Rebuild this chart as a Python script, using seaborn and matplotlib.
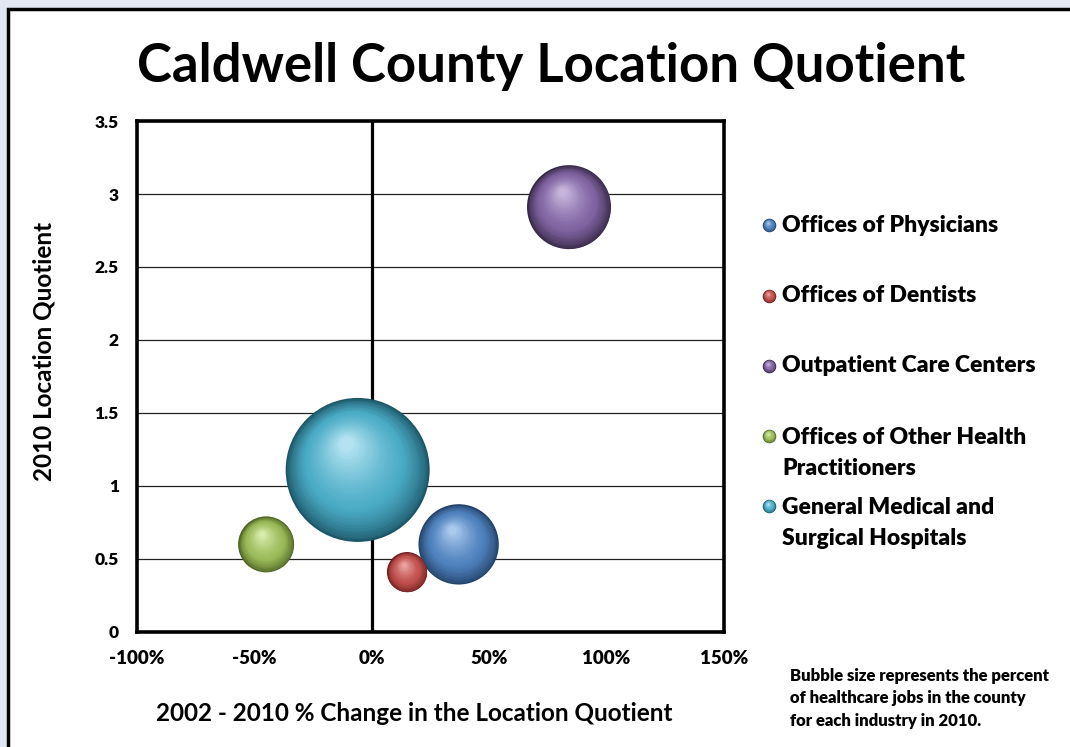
import numpy as np
import pandas as pd
import seaborn as sns
import matplotlib.pyplot as plt
from matplotlib import transforms
from matplotlib.colors import to_rgb
from matplotlib.patches import Rectangle

# data
industries = ["Offices of Physicians", "Offices of Dentists", "Outpatient Care Centers",
              "Offices of Other Health Practitioners", "General Medical and Surgical Hospitals"]
legend_labels = ["Offices of Physicians", "Offices of Dentists", "Outpatient Care Centers",
                 "Offices of Other Health\nPractitioners", "General Medical and\nSurgical Hospitals"]
pct_change = [37, 15, 84, -45, -6]          # 2002-2010 % change in LQ
lq_2010 = [0.60, 0.41, 2.91, 0.60, 1.11]    # 2010 location quotient
job_share = [14.0, 3.5, 15.3, 6.8, 45.0]    # % of healthcare jobs (bubble size)

base_colors = ["#4f81bd", "#c0504d", "#8064a2", "#9bbb59", "#4bacc6"]
dark_colors = ["#223f66", "#6e1f1d", "#352744", "#4b6120", "#1b5566"]
light_colors = ["#a9c9ee", "#eba3a1", "#c6b4dc", "#d6ebaa", "#b3e3f1"]

x_ticks = [-100, -50, 0, 50, 100, 150]
y_ticks = [0, 0.5, 1, 1.5, 2, 2.5, 3, 3.5]
y_ticklabels = ["0", "0.5", "1", "1.5", "2", "2.5", "3", "3.5"]

df = pd.DataFrame({"industry": industries, "change": pct_change,
                   "lq": lq_2010, "share": job_share})

sns.set_theme(style="white")
plt.rcParams["font.family"] = ["Lato", "DejaVu Sans"]
plt.rcParams["font.weight"] = "bold"
plt.rcParams["text.color"] = "black"
plt.rcParams["axes.labelcolor"] = "black"
plt.rcParams["xtick.color"] = "black"
plt.rcParams["ytick.color"] = "black"

fig = plt.figure(figsize=(10.7, 7.47), dpi=100)
fig.patch.set_facecolor("#e0e7f3")
# white panel with black frame
fig.patches.append(Rectangle((0.0075, -0.05), 1.1, 1.038, transform=fig.transFigure,
                             facecolor="white", edgecolor="black", linewidth=2.5,
                             zorder=-5))

ax = fig.add_axes([0.128, 0.154, 0.5486, 0.684])
ax.set_facecolor("white")

# bubble area proportional to share of jobs (Excel style)
S_MAX = 10750
sizes = {ind: sh / max(job_share) * S_MAX for ind, sh in zip(industries, job_share)}


def blend(c1, c2, t):
    a, b = np.array(to_rgb(c1)), np.array(to_rgb(c2))
    return tuple(a + (b - a) * t)


def shade(axis, x, y, s, base, dark, light, trans_base, n=40, z=3):
    # fake 3D sphere: stacked circles shrinking toward an upper-left highlight
    r_pt = np.sqrt(s) / 2
    for i in range(1, n):
        t = i / (n - 1)
        f = 1 - 0.9 * t
        if t < 0.35:
            col = blend(dark, base, (t / 0.35) ** 0.7)
        else:
            col = blend(base, light, ((t - 0.35) / 0.65) ** 1.3)
        off = (1 - f) * r_pt * 0.45
        tr = transforms.offset_copy(trans_base, fig=fig, x=-0.4 * off, y=0.9 * off,
                                    units="points")
        axis.scatter([x], [y], s=s * f * f, color=col, linewidths=0,
                     transform=tr, zorder=z + i * 0.001)


# base bubbles through seaborn (dark rim)
sns.scatterplot(data=df, x="change", y="lq", hue="industry", size="industry",
                palette=dict(zip(industries, dark_colors)), sizes=sizes,
                hue_order=industries, size_order=industries,
                linewidth=0, legend=False, ax=ax, zorder=3)

for _, row in df.iterrows():
    k = industries.index(row["industry"])
    shade(ax, row["change"], row["lq"], sizes[row["industry"]], base_colors[k],
          dark_colors[k], light_colors[k], ax.transData)

ax.set_xlim(-100, 150)
ax.set_ylim(0, 3.5)
ax.set_xticks(x_ticks)
ax.set_xticklabels([f"{v}%" for v in x_ticks], fontsize=13.5, fontweight="heavy")
ax.set_yticks(y_ticks)
ax.set_yticklabels(y_ticklabels, fontsize=12.5, fontweight="heavy")
ax.tick_params(axis="both", length=0)
ax.tick_params(axis="y", pad=13)
ax.tick_params(axis="x", pad=13)

ax.yaxis.grid(True, color="#222222", linewidth=0.9, zorder=1)
ax.set_axisbelow(True)
ax.axvline(0, color="black", linewidth=2.3, zorder=2)
for sp in ax.spines.values():
    sp.set_color("black")
    sp.set_linewidth(2.6)
    sp.set_zorder(5)

ax.set_xlabel("2002 - 2010 % Change in the Location Quotient", fontsize=17.5,
              fontweight="bold")
ax.set_ylabel("2010 Location Quotient", fontsize=17.5, fontweight="bold")
ax.xaxis.set_label_coords(0.472, -0.137)
ax.yaxis.set_label_coords(-0.138, 0.55)

fig.text(0.515, 0.911, "Caldwell County Location Quotient", ha="center", va="center",
         fontsize=38, fontweight="bold")

# legend (manual, to mimic Excel layout)
lax = fig.add_axes([0, 0, 1, 1], facecolor="none")
lax.set_xlim(0, 1070)
lax.set_ylim(747, 0)
lax.axis("off")
leg_y = [225, 296, 366, 436, 506]
for k, (lab, yy) in enumerate(zip(legend_labels, leg_y)):
    lax.scatter([769], [yy], s=95, color=dark_colors[k], linewidths=0, zorder=2.9)
    shade(lax, 769, yy, 95, base_colors[k], dark_colors[k], light_colors[k],
          lax.transData, n=12)
    if "\n" in lab:
        lax.text(782, yy - 9, lab, ha="left", va="top", fontsize=16.5,
                 fontweight="heavy", linespacing=1.6)
    else:
        lax.text(782, yy, lab, ha="left", va="center", fontsize=16.5,
                 fontweight="heavy")

lax.text(790, 668, "Bubble size represents the percent\nof healthcare jobs in the county\nfor each industry in 2010.",
         ha="left", va="top", fontsize=12, fontweight="heavy", linespacing=1.5)

fig.savefig("out.png", dpi=100, facecolor=fig.get_facecolor())
